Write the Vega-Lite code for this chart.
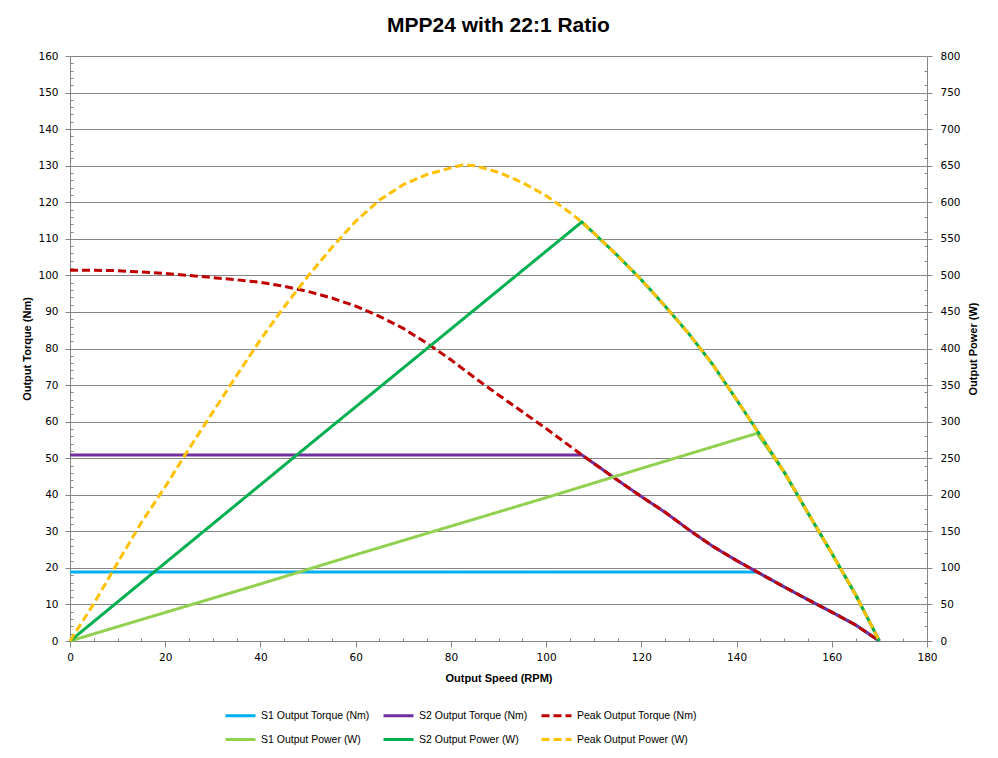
{
  "$schema": "https://vega.github.io/schema/vega-lite/v6.json",
  "width": 857,
  "height": 585,
  "autosize": {"type": "none"},
  "padding": {"left": 70, "top": 56, "right": 71, "bottom": 117},
  "background": "white",
  "title": {"text": "MPP24 with 22:1 Ratio", "font": "Liberation Sans", "fontSize": 21, "fontWeight": "bold", "color": "black", "anchor": "middle", "offset": 15},
  "config": {
    "view": {"stroke": null},
    "axis": {"domainColor": "#868686", "tickColor": "#868686", "gridColor": "#868686", "labelFont": "DejaVu Sans", "labelFontSize": 10.5, "labelColor": "black", "titleFont": "Liberation Sans", "titleFontSize": 11, "titleFontWeight": "bold", "titleColor": "black", "domainWidth": 1, "tickWidth": 1, "gridWidth": 1, "gridOpacity": 1, "labelFlush": false, "labelOverlap": false}
  },
  "data": {"values": [
    {"s": "S1 Output Torque (Nm)", "rpm": 0, "v": 18.9},
    {"s": "S1 Output Torque (Nm)", "rpm": 144.3, "v": 18.9},
    {"s": "S1 Output Torque (Nm)", "rpm": 150, "v": 14.8},
    {"s": "S1 Output Torque (Nm)", "rpm": 155, "v": 11.3},
    {"s": "S1 Output Torque (Nm)", "rpm": 160, "v": 7.9},
    {"s": "S1 Output Torque (Nm)", "rpm": 165, "v": 4.4},
    {"s": "S1 Output Torque (Nm)", "rpm": 170, "v": 0},
    {"s": "S2 Output Torque (Nm)", "rpm": 0, "v": 50.9},
    {"s": "S2 Output Torque (Nm)", "rpm": 107.5, "v": 50.9},
    {"s": "S2 Output Torque (Nm)", "rpm": 110, "v": 48.6},
    {"s": "S2 Output Torque (Nm)", "rpm": 115, "v": 44.0},
    {"s": "S2 Output Torque (Nm)", "rpm": 120, "v": 39.5},
    {"s": "S2 Output Torque (Nm)", "rpm": 125, "v": 35.2},
    {"s": "S2 Output Torque (Nm)", "rpm": 130, "v": 30.4},
    {"s": "S2 Output Torque (Nm)", "rpm": 135, "v": 25.9},
    {"s": "S2 Output Torque (Nm)", "rpm": 140, "v": 22.0},
    {"s": "S2 Output Torque (Nm)", "rpm": 144.3, "v": 18.9},
    {"s": "S2 Output Torque (Nm)", "rpm": 150, "v": 14.8},
    {"s": "S2 Output Torque (Nm)", "rpm": 155, "v": 11.3},
    {"s": "S2 Output Torque (Nm)", "rpm": 160, "v": 7.9},
    {"s": "S2 Output Torque (Nm)", "rpm": 165, "v": 4.4},
    {"s": "S2 Output Torque (Nm)", "rpm": 170, "v": 0},
    {"s": "Peak Output Torque (Nm)", "rpm": 0, "v": 101.4},
    {"s": "Peak Output Torque (Nm)", "rpm": 5, "v": 101.4},
    {"s": "Peak Output Torque (Nm)", "rpm": 10, "v": 101.3},
    {"s": "Peak Output Torque (Nm)", "rpm": 15, "v": 100.9},
    {"s": "Peak Output Torque (Nm)", "rpm": 20, "v": 100.5},
    {"s": "Peak Output Torque (Nm)", "rpm": 25, "v": 100.0},
    {"s": "Peak Output Torque (Nm)", "rpm": 30, "v": 99.4},
    {"s": "Peak Output Torque (Nm)", "rpm": 35, "v": 98.8},
    {"s": "Peak Output Torque (Nm)", "rpm": 40, "v": 98.1},
    {"s": "Peak Output Torque (Nm)", "rpm": 45, "v": 97.0},
    {"s": "Peak Output Torque (Nm)", "rpm": 50, "v": 95.6},
    {"s": "Peak Output Torque (Nm)", "rpm": 55, "v": 93.8},
    {"s": "Peak Output Torque (Nm)", "rpm": 60, "v": 91.6},
    {"s": "Peak Output Torque (Nm)", "rpm": 65, "v": 88.8},
    {"s": "Peak Output Torque (Nm)", "rpm": 70, "v": 85.5},
    {"s": "Peak Output Torque (Nm)", "rpm": 75, "v": 81.4},
    {"s": "Peak Output Torque (Nm)", "rpm": 80, "v": 76.9},
    {"s": "Peak Output Torque (Nm)", "rpm": 85, "v": 72.0},
    {"s": "Peak Output Torque (Nm)", "rpm": 90, "v": 67.3},
    {"s": "Peak Output Torque (Nm)", "rpm": 95, "v": 62.7},
    {"s": "Peak Output Torque (Nm)", "rpm": 100, "v": 58.1},
    {"s": "Peak Output Torque (Nm)", "rpm": 105, "v": 53.3},
    {"s": "Peak Output Torque (Nm)", "rpm": 107.5, "v": 50.9},
    {"s": "Peak Output Torque (Nm)", "rpm": 110, "v": 48.6},
    {"s": "Peak Output Torque (Nm)", "rpm": 115, "v": 44.0},
    {"s": "Peak Output Torque (Nm)", "rpm": 120, "v": 39.5},
    {"s": "Peak Output Torque (Nm)", "rpm": 125, "v": 35.2},
    {"s": "Peak Output Torque (Nm)", "rpm": 130, "v": 30.4},
    {"s": "Peak Output Torque (Nm)", "rpm": 135, "v": 25.9},
    {"s": "Peak Output Torque (Nm)", "rpm": 140, "v": 22.0},
    {"s": "Peak Output Torque (Nm)", "rpm": 144.3, "v": 18.9},
    {"s": "Peak Output Torque (Nm)", "rpm": 150, "v": 14.8},
    {"s": "Peak Output Torque (Nm)", "rpm": 155, "v": 11.3},
    {"s": "Peak Output Torque (Nm)", "rpm": 160, "v": 7.9},
    {"s": "Peak Output Torque (Nm)", "rpm": 165, "v": 4.4},
    {"s": "Peak Output Torque (Nm)", "rpm": 170, "v": 0},
    {"s": "S1 Output Power (W)", "rpm": 0, "v": 0},
    {"s": "S1 Output Power (W)", "rpm": 20, "v": 39},
    {"s": "S1 Output Power (W)", "rpm": 40, "v": 78},
    {"s": "S1 Output Power (W)", "rpm": 60, "v": 118},
    {"s": "S1 Output Power (W)", "rpm": 80, "v": 157},
    {"s": "S1 Output Power (W)", "rpm": 100, "v": 196},
    {"s": "S1 Output Power (W)", "rpm": 120, "v": 236},
    {"s": "S1 Output Power (W)", "rpm": 144.3, "v": 284},
    {"s": "S1 Output Power (W)", "rpm": 150, "v": 231},
    {"s": "S1 Output Power (W)", "rpm": 155, "v": 175},
    {"s": "S1 Output Power (W)", "rpm": 160, "v": 120},
    {"s": "S1 Output Power (W)", "rpm": 165, "v": 64},
    {"s": "S1 Output Power (W)", "rpm": 170, "v": 0},
    {"s": "S2 Output Power (W)", "rpm": 0, "v": 0},
    {"s": "S2 Output Power (W)", "rpm": 50, "v": 267},
    {"s": "S2 Output Power (W)", "rpm": 107.5, "v": 573},
    {"s": "S2 Output Power (W)", "rpm": 110, "v": 558},
    {"s": "S2 Output Power (W)", "rpm": 115, "v": 527},
    {"s": "S2 Output Power (W)", "rpm": 120, "v": 494},
    {"s": "S2 Output Power (W)", "rpm": 125, "v": 458},
    {"s": "S2 Output Power (W)", "rpm": 130, "v": 420},
    {"s": "S2 Output Power (W)", "rpm": 135, "v": 378},
    {"s": "S2 Output Power (W)", "rpm": 140, "v": 330},
    {"s": "S2 Output Power (W)", "rpm": 145, "v": 281},
    {"s": "S2 Output Power (W)", "rpm": 150, "v": 231},
    {"s": "S2 Output Power (W)", "rpm": 155, "v": 175},
    {"s": "S2 Output Power (W)", "rpm": 160, "v": 120},
    {"s": "S2 Output Power (W)", "rpm": 165, "v": 63},
    {"s": "S2 Output Power (W)", "rpm": 170, "v": 0},
    {"s": "Peak Output Power (W)", "rpm": 0, "v": 0},
    {"s": "Peak Output Power (W)", "rpm": 5, "v": 51},
    {"s": "Peak Output Power (W)", "rpm": 10, "v": 107},
    {"s": "Peak Output Power (W)", "rpm": 15, "v": 162},
    {"s": "Peak Output Power (W)", "rpm": 20, "v": 211},
    {"s": "Peak Output Power (W)", "rpm": 25, "v": 263},
    {"s": "Peak Output Power (W)", "rpm": 30, "v": 313},
    {"s": "Peak Output Power (W)", "rpm": 35, "v": 363},
    {"s": "Peak Output Power (W)", "rpm": 40, "v": 412},
    {"s": "Peak Output Power (W)", "rpm": 45, "v": 457},
    {"s": "Peak Output Power (W)", "rpm": 50, "v": 499},
    {"s": "Peak Output Power (W)", "rpm": 55, "v": 538},
    {"s": "Peak Output Power (W)", "rpm": 60, "v": 574},
    {"s": "Peak Output Power (W)", "rpm": 65, "v": 603},
    {"s": "Peak Output Power (W)", "rpm": 70, "v": 624},
    {"s": "Peak Output Power (W)", "rpm": 75, "v": 638},
    {"s": "Peak Output Power (W)", "rpm": 80, "v": 647},
    {"s": "Peak Output Power (W)", "rpm": 82.5, "v": 651},
    {"s": "Peak Output Power (W)", "rpm": 85, "v": 650},
    {"s": "Peak Output Power (W)", "rpm": 90, "v": 641},
    {"s": "Peak Output Power (W)", "rpm": 95, "v": 627},
    {"s": "Peak Output Power (W)", "rpm": 100, "v": 609},
    {"s": "Peak Output Power (W)", "rpm": 105, "v": 586},
    {"s": "Peak Output Power (W)", "rpm": 107.5, "v": 573},
    {"s": "Peak Output Power (W)", "rpm": 110, "v": 558},
    {"s": "Peak Output Power (W)", "rpm": 115, "v": 527},
    {"s": "Peak Output Power (W)", "rpm": 120, "v": 494},
    {"s": "Peak Output Power (W)", "rpm": 125, "v": 458},
    {"s": "Peak Output Power (W)", "rpm": 130, "v": 420},
    {"s": "Peak Output Power (W)", "rpm": 135, "v": 378},
    {"s": "Peak Output Power (W)", "rpm": 140, "v": 330},
    {"s": "Peak Output Power (W)", "rpm": 145, "v": 281},
    {"s": "Peak Output Power (W)", "rpm": 150, "v": 231},
    {"s": "Peak Output Power (W)", "rpm": 155, "v": 175},
    {"s": "Peak Output Power (W)", "rpm": 160, "v": 120},
    {"s": "Peak Output Power (W)", "rpm": 165, "v": 63},
    {"s": "Peak Output Power (W)", "rpm": 170, "v": 0}
  ]},
  "layer": [
    {
      "transform": [{"filter": "datum.s === 'S1 Output Torque (Nm)'"}],
      "mark": {"type": "line", "strokeWidth": 3},
      "encoding": {
        "x": {"field": "rpm", "type": "quantitative", "scale": {"domain": [0, 180], "nice": false},
              "axis": {"orient": "bottom", "values": [0, 20, 40, 60, 80, 100, 120, 140, 160, 180], "grid": false, "tickSize": 6, "labelPadding": 5, "title": "Output Speed (RPM)", "titlePadding": 10}},
        "y": {"field": "v", "type": "quantitative", "scale": {"domain": [0, 160], "nice": false},
              "axis": {"orient": "left", "values": [0, 10, 20, 30, 40, 50, 60, 70, 80, 90, 100, 110, 120, 130, 140, 150, 160], "grid": true, "tickSize": 5, "labelPadding": 7, "title": "Output Torque (Nm)", "titlePadding": 5}},
        "color": {"field": "s", "type": "nominal",
                  "scale": {"domain": ["S1 Output Torque (Nm)", "S2 Output Torque (Nm)", "Peak Output Torque (Nm)", "S1 Output Power (W)", "S2 Output Power (W)", "Peak Output Power (W)"], "range": ["#00B0F0", "#7030A0", "#C00000", "#92D050", "#00B050", "#FFC000"]},
                  "legend": {"orient": "none", "legendX": 154, "legendY": 643, "direction": "horizontal", "columns": 3, "title": null, "symbolType": "stroke", "symbolSize": 900, "symbolStrokeWidth": 3, "labelFont": "Liberation Sans", "labelFontSize": 10.5, "labelColor": "black", "labelOffset": 4, "columnPadding": 7, "rowPadding": 1, "padding": 0, "labelLimit": 300}},
        "strokeDash": {"field": "s", "type": "nominal",
                  "scale": {"domain": ["S1 Output Torque (Nm)", "S2 Output Torque (Nm)", "Peak Output Torque (Nm)", "S1 Output Power (W)", "S2 Output Power (W)", "Peak Output Power (W)"], "range": [[1, 0], [1, 0], [8, 4], [1, 0], [1, 0], [8, 4]]},
                  "legend": {"orient": "none", "legendX": 154, "legendY": 643, "direction": "horizontal", "columns": 3, "title": null, "symbolType": "stroke", "symbolSize": 900, "symbolStrokeWidth": 3, "labelFont": "Liberation Sans", "labelFontSize": 10.5, "labelColor": "black", "labelOffset": 4, "columnPadding": 7, "rowPadding": 1, "padding": 0, "labelLimit": 300}}
      }
    },
    {
      "transform": [{"filter": "datum.s === 'S2 Output Torque (Nm)'"}],
      "mark": {"type": "line", "strokeWidth": 3},
      "encoding": {
        "x": {"field": "rpm", "type": "quantitative", "scale": {"domain": [0, 180], "nice": false},
              "axis": {"orient": "bottom", "values": [5, 10, 15, 25, 30, 35, 45, 50, 55, 65, 70, 75, 85, 90, 95, 105, 110, 115, 125, 130, 135, 145, 150, 155, 165, 170, 175], "grid": false, "tickSize": -3, "labels": false, "domain": false, "title": null}},
        "y": {"field": "v", "type": "quantitative", "scale": {"domain": [0, 160], "nice": false},
              "axis": {"orient": "left", "values": [2, 4, 6, 8, 12, 14, 16, 18, 22, 24, 26, 28, 32, 34, 36, 38, 42, 44, 46, 48, 52, 54, 56, 58, 62, 64, 66, 68, 72, 74, 76, 78, 82, 84, 86, 88, 92, 94, 96, 98, 102, 104, 106, 108, 112, 114, 116, 118, 122, 124, 126, 128, 132, 134, 136, 138, 142, 144, 146, 148, 152, 154, 156, 158], "grid": false, "tickSize": -3, "labels": false, "domain": false, "title": null}},
        "color": {"field": "s", "type": "nominal"},
        "strokeDash": {"field": "s", "type": "nominal"}
      }
    },
    {
      "transform": [{"filter": "datum.s === 'Peak Output Torque (Nm)'"}],
      "mark": {"type": "line", "strokeWidth": 3},
      "encoding": {
        "x": {"field": "rpm", "type": "quantitative", "scale": {"domain": [0, 180], "nice": false}, "axis": null},
        "y": {"field": "v", "type": "quantitative", "scale": {"domain": [0, 160], "nice": false}, "axis": null},
        "color": {"field": "s", "type": "nominal"},
        "strokeDash": {"field": "s", "type": "nominal"}
      }
    },
    {
      "transform": [{"filter": "datum.s === 'S1 Output Power (W)'"}],
      "mark": {"type": "line", "strokeWidth": 3},
      "encoding": {
        "x": {"field": "rpm", "type": "quantitative", "scale": {"domain": [0, 180], "nice": false}, "axis": null},
        "y": {"field": "v", "type": "quantitative", "scale": {"domain": [0, 800], "nice": false},
              "axis": {"orient": "right", "values": [0, 50, 100, 150, 200, 250, 300, 350, 400, 450, 500, 550, 600, 650, 700, 750, 800], "grid": false, "tickSize": 5, "labelPadding": 8, "title": "Output Power (W)", "titleAngle": 270, "titlePadding": 18}},
        "color": {"field": "s", "type": "nominal"},
        "strokeDash": {"field": "s", "type": "nominal"}
      }
    },
    {
      "transform": [{"filter": "datum.s === 'S2 Output Power (W)'"}],
      "mark": {"type": "line", "strokeWidth": 3},
      "encoding": {
        "x": {"field": "rpm", "type": "quantitative", "scale": {"domain": [0, 180], "nice": false}, "axis": null},
        "y": {"field": "v", "type": "quantitative", "scale": {"domain": [0, 800], "nice": false},
              "axis": {"orient": "right", "values": [20, 40, 60, 80, 120, 140, 160, 180, 220, 240, 260, 280, 320, 340, 360, 380, 420, 440, 460, 480, 520, 540, 560, 580, 620, 640, 660, 680, 720, 740, 760, 780], "grid": false, "tickSize": -3, "labels": false, "domain": false, "title": null}},
        "color": {"field": "s", "type": "nominal"},
        "strokeDash": {"field": "s", "type": "nominal"}
      }
    },
    {
      "transform": [{"filter": "datum.s === 'Peak Output Power (W)'"}],
      "mark": {"type": "line", "strokeWidth": 3},
      "encoding": {
        "x": {"field": "rpm", "type": "quantitative", "scale": {"domain": [0, 180], "nice": false}, "axis": null},
        "y": {"field": "v", "type": "quantitative", "scale": {"domain": [0, 800], "nice": false}, "axis": null},
        "color": {"field": "s", "type": "nominal"},
        "strokeDash": {"field": "s", "type": "nominal"}
      }
    }
  ],
  "resolve": {"scale": {"y": "independent"}, "axis": {"x": "independent", "y": "independent"}}
}
